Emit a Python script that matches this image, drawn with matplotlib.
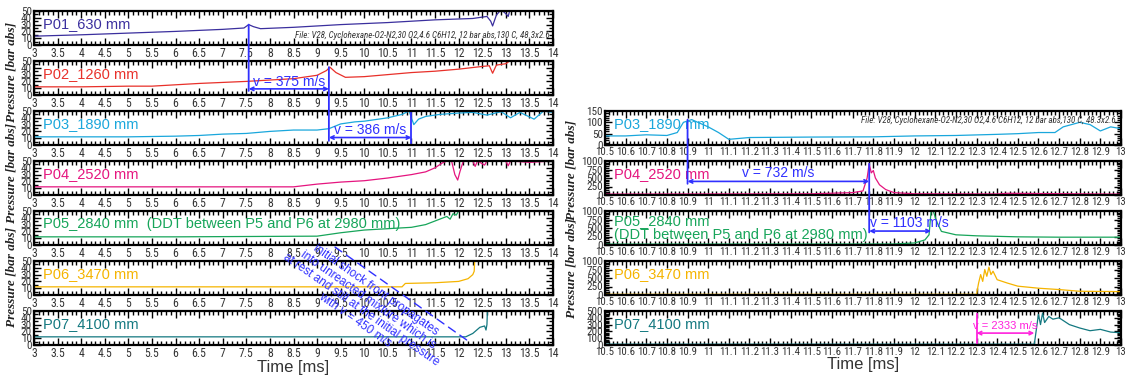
"""
Pressure traces of run V28 (cyclohexane-O2-N2) along the tube:
full time window on the left, zoom around the DDT on the right.
"""

import matplotlib

matplotlib.use("Agg")
import matplotlib.pyplot as plt
from matplotlib.patches import ConnectionPatch
from matplotlib.ticker import MultipleLocator

# ---- left panel, 3 ... 14 ms (time [ms], pressure [bar abs]) ----
P01_t = [3, 4, 5, 6, 7, 7.45, 7.55, 7.65, 7.8, 8.5, 9.5, 10.5, 11.5, 12.3, 12.6, 12.68, 12.72, 12.8, 12.9, 13.0, 13.05, 13.1, 13.3, 14]
P01_p = [13, 15, 17.5, 20, 23, 25, 30, 27, 24, 26, 30, 33, 37, 39, 42, 35, 28, 44, 52, 46, 42, 55, 60, 60]

P02_t = [3, 4, 5, 5.5, 6.5, 7.5, 8.5, 9.0, 9.2, 9.27, 9.4, 9.6, 10, 10.5, 11, 11.5, 12, 12.5, 12.65, 12.72, 12.8, 13, 13.1, 13.5, 14]
P02_p = [12, 12, 13, 13, 17, 20, 24, 29, 36, 41, 33, 26, 27, 30, 33, 35, 38, 42, 43, 32, 44, 46, 51, 52, 52]

P03_t = [3, 5, 6, 6.5, 7, 7.5, 8, 8.5, 9, 9.25, 9.5, 9.8, 10, 10.5, 10.8, 10.95, 11.05, 11.15, 11.3, 11.6, 12, 12.3, 12.6, 12.9, 13.1, 13.3, 13.6, 13.8, 14]
P03_p = [12, 12, 13, 14, 16, 17, 20, 22, 22, 24, 31, 34, 35, 40, 45, 50, 30, 38, 42, 45, 47, 48, 44, 49, 40, 48, 38, 50, 48]

P04_t = [3, 6, 8.5, 9, 9.5, 10, 10.5, 11, 11.3, 11.5, 11.65, 11.75, 11.85, 11.92, 11.98, 12.03, 12.1, 12.3, 12.35, 12.4, 12.55, 12.6, 13, 13.05, 13.1, 13.5, 14]
P04_p = [12, 12, 12, 16, 19, 21, 25, 30, 34, 40, 47, 50, 50, 30, 22, 35, 50, 50, 42, 50, 44, 50, 50, 43, 50, 48, 50]

P05_t = [3, 6, 9, 9.5, 10, 10.5, 11, 11.3, 11.6, 11.75, 11.82, 11.88, 11.95, 12.0, 14]
P05_p = [12, 12, 13, 18, 22, 24, 26, 30, 38, 42, 38, 46, 44, 50, 50]

P06_t = [3, 10.8, 10.87, 11.5, 12.0, 12.2, 12.3, 12.33, 12.34, 13.95, 14]
P06_p = [12, 12, 17, 18, 20, 24, 30, 35, 50, 50, 48]

P07_t = [3, 12.15, 12.3, 12.45, 12.55, 12.58, 12.6, 12.61, 14]
P07_p = [12, 12, 17, 26, 28, 22, 30, 50, 50]

# ---- right panel, 10.5 ... 13 ms ----
R03_t = [10.5, 10.6, 10.7, 10.8, 10.85, 10.88, 10.92, 11.0, 11.05, 11.1, 11.2, 11.5, 11.8, 12.0, 12.2, 12.4, 12.5, 12.6, 12.68, 12.72, 12.8, 12.85, 12.9, 12.95, 13.0]
R03_p = [40, 40, 45, 42, 55, 100, 112, 80, 55, 25, 33, 35, 36, 40, 42, 47, 50, 55, 55, 80, 100, 90, 62, 80, 72]

R04_t = [10.5, 11.5, 11.7, 11.75, 11.77, 11.78, 11.79, 11.8, 11.81, 11.83, 11.86, 11.9, 12.0, 12.4, 12.45, 13.0]
R04_p = [25, 35, 70, 120, 500, 920, 650, 720, 500, 300, 160, 70, 35, 30, 50, 25]

R05_t = [10.5, 11.9, 12.0, 12.05, 12.07, 12.08, 12.09, 12.11, 12.13, 12.2, 12.3, 12.5, 12.7, 13.0]
R05_p = [25, 30, 60, 150, 300, 1000, 1000, 650, 400, 300, 270, 240, 230, 230]

R06_t = [10.5, 12.3, 12.31, 12.32, 12.33, 12.34, 12.35, 12.36, 12.37, 12.38, 12.4, 12.45, 12.5, 12.6, 12.7, 12.8, 13.0]
R06_p = [20, 20, 350, 600, 400, 750, 550, 820, 600, 700, 450, 350, 260, 200, 160, 110, 100]

R07_t = [10.5, 12.58, 12.6, 12.61, 12.62, 12.63, 12.65, 12.67, 12.7, 12.75, 12.8, 12.85, 12.9, 12.95, 13.0]
R07_p = [12, 12, 450, 300, 470, 330, 420, 380, 400, 300, 250, 210, 230, 190, 180]

LABELS = ["P01_630 mm", "P02_1260 mm", "P03_1890 mm", "P04_2520 mm",
          "P05_2840 mm", "P06_3470 mm", "P07_4100 mm"]
COLORS = ["#3b2f9e", "#e8302a", "#1aa7dc", "#e5157f", "#17a55a", "#f5b400", "#137880"]

FILE_TEXT = "File: V28, Cyclohexane-O2-N2,30 O2,4.6 C6H12, 12 bar abs,130 C, 48.3x2.6"
SHOCK_TEXT = ("initial shock front propagates\ninto unreacted mixture which is\n"
              "at rest and still at the initial pressure\nwith v = 450 m/s")

BLUE = "#3030ff"
TICK_FONT = ["Roboto Condensed", "Noto Sans Condensed", "DejaVu Sans Condensed",
             "Open Sans Condensed", "Liberation Sans Narrow", "Liberation Sans"]

FIG_W, FIG_H = 1127, 376
ROW_TOPS = [11, 61, 111, 161, 211, 261, 311]  # px from top
ROW_H = 34


def ax_rect(x0, x1, top):
    return [x0 / FIG_W, (FIG_H - top - ROW_H) / FIG_H, (x1 - x0) / FIG_W, ROW_H / FIG_H]


def style_axis(ax, xlim, xmaj, xmin, ylim, ymaj, ymin, xsize=8.5):
    ax.set_xlim(*xlim)
    ax.set_ylim(*ylim)
    ax.xaxis.set_major_locator(MultipleLocator(xmaj))
    ax.xaxis.set_minor_locator(MultipleLocator(xmin))
    ax.yaxis.set_major_locator(MultipleLocator(ymaj))
    ax.yaxis.set_minor_locator(MultipleLocator(ymin))
    ax.xaxis.set_major_formatter(lambda v, _pos: f"{v:g}")
    ax.tick_params(which="both", direction="in", top=True, right=True, width=1.0, pad=1.5)
    ax.tick_params(which="major", length=5)
    ax.tick_params(which="minor", length=3)
    for lab in ax.get_xticklabels():
        lab.set_family(TICK_FONT)
        lab.set_fontsize(xsize)
        lab.set_color("#333333")
    for lab in ax.get_yticklabels():
        lab.set_family(TICK_FONT)
        lab.set_fontsize(8)
        lab.set_color("#333333")
    for sp in ax.spines.values():
        sp.set_linewidth(1.6)


def vline_between(fig, ax_a, ya, ax_b, yb, x, color=BLUE):
    con = ConnectionPatch(xyA=(x, ya), coordsA=ax_a.transData, xyB=(x, yb), coordsB=ax_b.transData,
                          color=color, lw=1.3)
    fig.add_artist(con)


def speed_arrow(ax, x0, x1, y, text, tx, ty, color=BLUE, size=10, ha="center"):
    ax.annotate("", xy=(x1, y), xytext=(x0, y),
                arrowprops=dict(arrowstyle="<->", color=color, lw=1.2, shrinkA=0, shrinkB=0,
                                mutation_scale=6))
    ax.text(tx, ty, text, color=color, fontsize=size, ha=ha, va="bottom", family="Liberation Sans")


def series_label(ax, text, color, y=0.62):
    ax.text(0.017, y, text, transform=ax.transAxes, color=color, fontsize=10.5,
            va="center", ha="left", family="Liberation Sans", linespacing=1.0)


def main():
    fig = plt.figure(figsize=(FIG_W / 100, FIG_H / 100), dpi=100)

    left_data = [(P01_t, P01_p), (P02_t, P02_p), (P03_t, P03_p), (P04_t, P04_p),
                 (P05_t, P05_p), (P06_t, P06_p), (P07_t, P07_p)]
    right_data = [(R03_t, R03_p, 150, 50, 10), (R04_t, R04_p, 1000, 250, 50),
                  (R05_t, R05_p, 1000, 250, 50), (R06_t, R06_p, 1000, 250, 50),
                  (R07_t, R07_p, 500, 100, 20)]

    # left column
    lax = []
    for i, (t, p) in enumerate(left_data):
        ax = fig.add_axes(ax_rect(34, 553, ROW_TOPS[i]))
        ax.plot(t, p, color=COLORS[i], lw=0.9)
        style_axis(ax, (3, 14), 0.5, 0.1, (0, 50), 10, 5)
        label = LABELS[i]
        if i == 4:
            label += "  (DDT between P5 and P6 at 2980 mm)"
        series_label(ax, label, COLORS[i])
        lax.append(ax)
    lax[-1].set_xlabel("Time [ms]", fontsize=12, labelpad=0, color="#333333", family="Liberation Sans")
    lax[0].text(0.993, 0.16, FILE_TEXT, transform=lax[0].transAxes, ha="right", va="bottom",
                fontsize=6.5, style="italic", color="#333333", family=TICK_FONT)

    # right column
    rax = []
    for j, (t, p, ytop, ymaj, ymin) in enumerate(right_data):
        i = j + 2
        ax = fig.add_axes(ax_rect(605, 1121, ROW_TOPS[i]))
        ax.plot(t, p, color=COLORS[i], lw=0.9)
        style_axis(ax, (10.5, 13), 0.1, 0.02, (0, ytop), ymaj, ymin, xsize=7.8)
        if i == 4:
            series_label(ax, LABELS[i] + "\n(DDT between P5 and P6 at 2980 mm)", COLORS[i], y=0.5)
        else:
            series_label(ax, LABELS[i], COLORS[i])
        rax.append(ax)
    rax[-1].set_xlabel("Time [ms]", fontsize=12, labelpad=0, color="#333333", family="Liberation Sans")
    rax[0].text(0.99, 0.72, FILE_TEXT, transform=rax[0].transAxes, ha="right", va="center",
                fontsize=6.5, style="italic", color="#333333", family=TICK_FONT)

    # y labels (one per pair of rows, as in the original)
    for y in [0.809, 0.540, 0.263]:
        fig.text(12 / FIG_W, y, "Pressure [bar abs]", rotation=90, ha="center", va="center",
                 fontsize=9.5, style="italic", weight="bold", family="Liberation Serif",
                 color="#222222")
    for y in [0.548, 0.287]:
        fig.text(572 / FIG_W, y, "Pressure [bar abs]", rotation=90, ha="center", va="center",
                 fontsize=9.5, style="italic", weight="bold", family="Liberation Serif",
                 color="#222222")

    # left annotations
    vline_between(fig, lax[0], 30, lax[1], 6, 7.55)
    speed_arrow(lax[1], 7.55, 9.25, 9, "v = 375 m/s", 8.4, 9.5)
    vline_between(fig, lax[1], 41, lax[2], 6, 9.25)
    speed_arrow(lax[2], 9.25, 11.0, 11, "v = 386 m/s", 10.12, 11.5)
    lax[2].plot([11.0, 11.0], [2, 50], color=BLUE, lw=1.3)

    shock = ConnectionPatch(xyA=(9.38, -3), coordsA=lax[4].transData, xyB=(12.24, 4),
                            coordsB=lax[6].transData, color=BLUE, lw=1.0, linestyle=(0, (6, 4)))
    fig.add_artist(shock)
    fig.text(365 / FIG_W, 1 - 305 / FIG_H, SHOCK_TEXT, rotation=-35, ha="center", va="center",
             multialignment="center", fontsize=8.5, color=BLUE, linespacing=1.0,
             rotation_mode="anchor", family="Liberation Sans")

    # right annotations
    vline_between(fig, rax[0], 112, rax[1], 330, 10.9)
    speed_arrow(rax[1], 10.9, 11.78, 400, "v = 732 m/s", 11.34, 430)
    vline_between(fig, rax[1], 920, rax[2], 370, 11.78)
    speed_arrow(rax[2], 11.78, 12.08, 410, "v = 1103 m/s", 11.785, 440, ha="left")
    rax[4].plot([12.3, 12.3], [20, 450], color="#ff22dd", lw=1.3)
    speed_arrow(rax[4], 12.3, 12.58, 175, "v = 2333 m/s", 12.44, 205, color="#ff22dd", size=8)

    fig.savefig("out.png", dpi=100)


if __name__ == "__main__":
    main()
